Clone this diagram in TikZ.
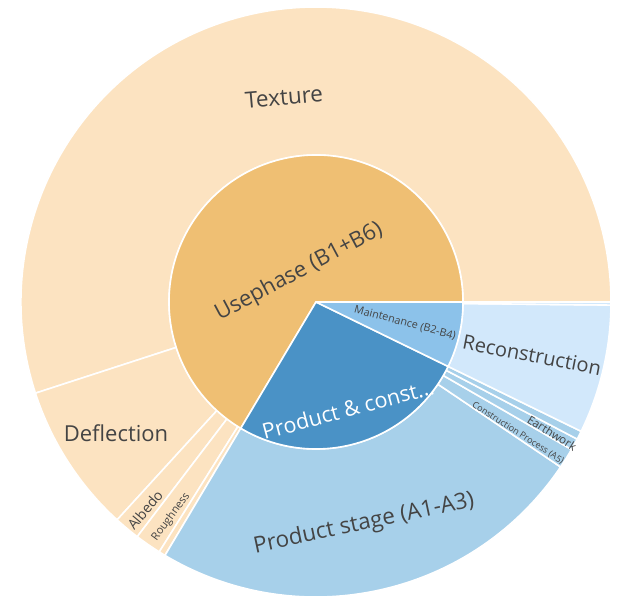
\documentclass[tikz,border=0pt]{standalone}
\usepackage{fontspec}
\setmainfont{Open Sans}
\usepackage{tikz}
\usetikzlibrary{positioning}
\definecolor{usecol}{RGB}{239,191,115}
\definecolor{usechild}{RGB}{252,227,193}
\definecolor{prodcol}{RGB}{74,146,198}
\definecolor{prodchild}{RGB}{167,208,234}
\definecolor{maintcol}{RGB}{140,194,234}
\definecolor{maintchild}{RGB}{210,232,251}
\definecolor{labelgray}{RGB}{68,68,68}
\tikzset{every picture/.style={line width=1.6pt}}
\tikzset{seg/.style={fill=#1, draw=white, line join=round},
  lbl/.style={text=labelgray, inner sep=0pt}}
% ring segment: colour, inner radius, outer radius, start angle, end angle
\newcommand{\ringseg}[5]{\path[seg=#1] (#4:#2) arc[start angle=#4, end angle=#5, radius=#2] -- (#5:#3) arc[start angle=#5, end angle=#4, radius=#3] -- cycle;}
\newcommand{\fs}[1]{\fontsize{#1}{#1}\selectfont}

\begin{document}
\begin{tikzpicture}[x=1pt, y=1pt]
\useasboundingbox (0,0) rectangle (617,603);
\begin{scope}[shift={(316,301)}]
    % Outer ring, children of Usephase
    \ringseg{usechild}{147}{295}{0}{198}
    \ringseg{usechild}{147}{295}{198}{227.6}
    \ringseg{usechild}{147}{295}{227.6}{232.7}
    \ringseg{usechild}{147}{295}{232.7}{237.9}
    \ringseg{usechild}{147}{295}{237.9}{239.2}
    % Outer ring, children of Product & construction
    \ringseg{prodchild}{147}{295}{239.2}{326}
    \ringseg{prodchild}{147}{295}{326}{330}
    \ringseg{prodchild}{147}{295}{330}{332.3}
    \ringseg{prodchild}{147}{295}{332.3}{334}
    % Outer ring, children of Maintenance
    \ringseg{maintchild}{147}{295}{334}{359.4}
    \ringseg{maintchild}{147}{295}{359.4}{360}
    % Inner ring
    \ringseg{usecol}{0}{147}{0}{239.2}
    \ringseg{prodcol}{0}{147}{239.2}{334}
    \ringseg{maintcol}{0}{147}{334}{360}
\end{scope}

    % Labels
\node[lbl, font=\fs{22.5}, rotate=5] (texture) at (284,506) {Texture};
\node[lbl, font=\fs{22}, rotate=28] (usephase) at (299,331) {Usephase (B1+B6)};
\node[lbl, font=\fs{21.5}, text=white, rotate=15] (prodconst) at (348,194) {Product \& const...};
\node[lbl, font=\fs{10.8}, rotate=-15] (maint) at (405,280) {Maintenance (B2-B4)};
\node[lbl, font=\fs{20}, rotate=-11] (recon) at (532,248) {Reconstruction};
\node[lbl, font=\fs{11.5}, rotate=-32] (earth) at (552,170) {Earthwork};
\node[lbl, font=\fs{9}, rotate=-33] (constr) at (518,170) {Construction Process (A5)};
\node[lbl, font=\fs{22}] (deflect) at (116,170) {Deflection};
\node[lbl, font=\fs{14}, rotate=50] (albedo) at (145,93) {Albedo};
\node[lbl, font=\fs{11}, rotate=54] (rough) at (171,86) {Roughness};
\node[lbl, font=\fs{22.5}, rotate=12] (prodstage) at (364,79) {Product stage (A1-A3)};
\end{tikzpicture}
\end{document}
